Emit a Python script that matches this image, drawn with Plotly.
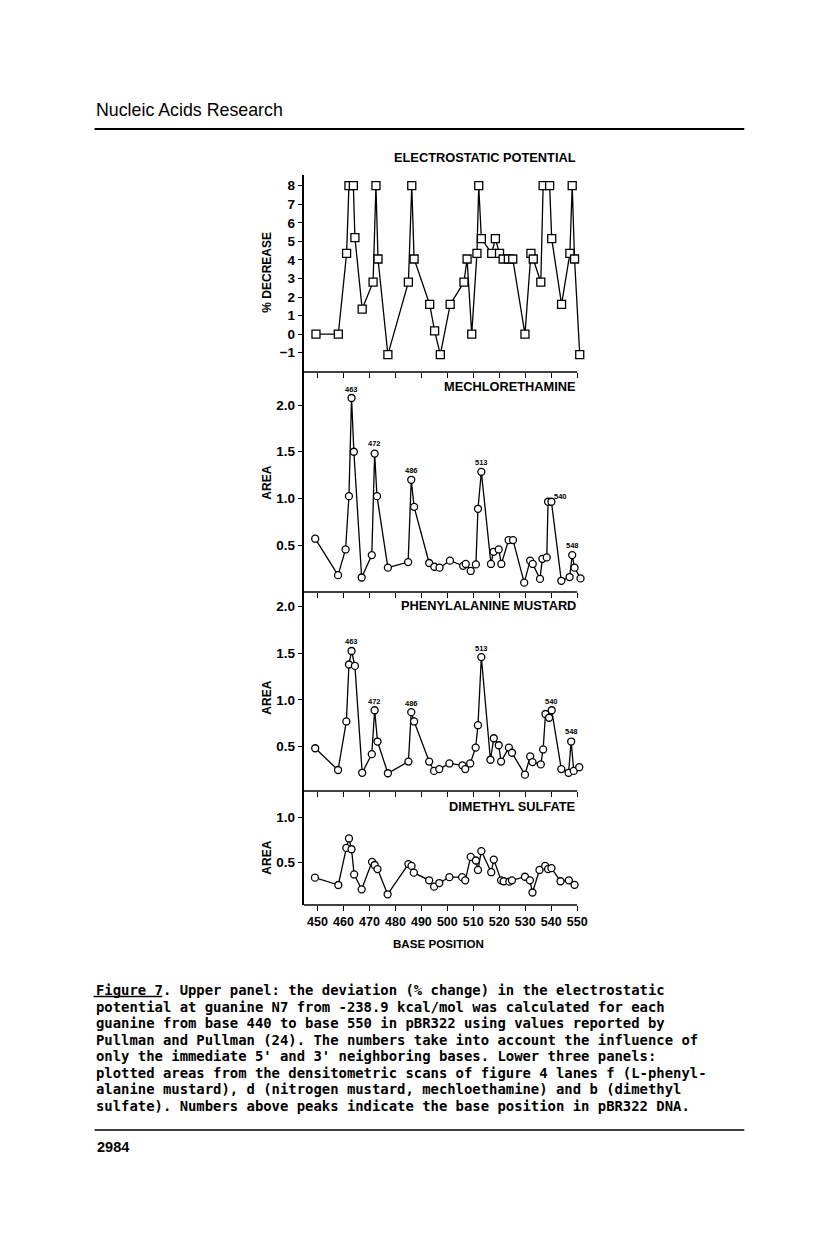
import plotly.graph_objects as go

# ---------------- data ----------------
ep_pos = [449.4, 458.0, 461.2, 462.1, 463.8, 464.4, 467.2, 471.4, 472.5, 473.3, 477.1,
          485.0, 486.3, 487.2, 493.2, 495.1, 497.3, 501.1, 506.4, 507.6, 509.4, 511.4,
          512.1, 513.1, 517.1, 518.5, 520.1, 521.5, 523.5, 525.2, 529.9, 532.2, 533.1,
          536.0, 536.9, 539.4, 540.2, 544.0, 547.2, 548.1, 549.0, 551.0]
ep_val = [0.0, 0.0, 4.35, 8.0, 8.0, 5.2, 1.35, 2.8, 8.0, 4.05, -1.1,
          2.8, 8.0, 4.05, 1.6, 0.18, -1.1, 1.6, 2.8, 4.05, 0.0, 4.35,
          8.0, 5.15, 4.35, 5.15, 4.35, 4.05, 4.05, 4.05, 0.0, 4.35, 4.05,
          2.8, 8.0, 8.0, 5.15, 1.6, 4.35, 8.0, 4.05, -1.1]
ep_peak_text = ["463", "472", "486", "512", "539", "548"]
ep_peak_pos = [465.3, 472.7, 486.6, 512.7, 541.4, 548.1]
ep_peak_val = [8.67, 8.67, 8.67, 8.67, 8.67, 8.67]

mech_pos = [449.1, 457.9, 460.8, 462.1, 463.1, 464.0, 467.0, 470.9, 472.0, 472.9, 477.1,
            484.9, 486.1, 487.2, 493.0, 495.0, 497.0, 501.0, 506.1, 507.1, 509.0, 511.0,
            511.8, 513.1, 516.8, 517.8, 519.8, 520.8, 523.6, 525.3, 529.6, 531.9, 532.9,
            535.7, 536.6, 538.3, 538.8, 540.1, 543.9, 547.1, 548.1, 549.0, 551.3]
mech_val = [0.57, 0.18, 0.455, 1.025, 2.075, 1.5, 0.155, 0.395, 1.48, 1.025, 0.26,
            0.32, 1.2, 0.91, 0.31, 0.27, 0.26, 0.335, 0.28, 0.30, 0.225, 0.295,
            0.89, 1.285, 0.30, 0.43, 0.455, 0.30, 0.555, 0.555, 0.10, 0.335, 0.30,
            0.14, 0.355, 0.37, 0.965, 0.965, 0.12, 0.16, 0.395, 0.26, 0.145]
mech_peak_text = ["463", "472", "486", "513", "540", "548"]
mech_peak_pos = [463.1, 472.0, 486.1, 513.1, 543.6, 548.1]
mech_peak_val = [2.17, 1.59, 1.30, 1.38, 1.02, 0.50]

phen_pos = [449.1, 457.9, 461.1, 462.1, 463.1, 464.4, 467.2, 470.9, 472.0, 473.1, 477.1,
            485.0, 486.1, 487.2, 493.0, 494.9, 496.9, 500.8, 505.8, 506.9, 508.8, 510.9,
            511.8, 513.1, 516.6, 517.9, 519.8, 520.7, 523.7, 524.9, 529.9, 531.9, 532.8,
            536.0, 536.9, 537.8, 539.2, 540.2, 543.9, 546.7, 547.7, 548.7, 550.8]
phen_val = [0.483, 0.25, 0.77, 1.38, 1.525, 1.365, 0.22, 0.42, 0.89, 0.555, 0.215,
            0.34, 0.87, 0.77, 0.34, 0.24, 0.26, 0.32, 0.30, 0.26, 0.32, 0.49,
            0.73, 1.46, 0.36, 0.59, 0.515, 0.34, 0.49, 0.435, 0.20, 0.395, 0.335,
            0.31, 0.47, 0.85, 0.81, 0.89, 0.26, 0.22, 0.555, 0.24, 0.28]
phen_peak_text = ["463", "513", "472", "486", "540", "548"]
phen_peak_pos = [463.1, 513.1, 472.0, 486.1, 540.2, 547.7]
phen_peak_val = [1.626, 1.554, 0.98, 0.965, 0.98, 0.66]

dms_pos = [449.0, 458.0, 461.1, 462.1, 463.1, 464.1, 467.0, 471.0, 472.0, 473.1, 477.0,
           485.0, 486.2, 487.1, 493.0, 494.9, 496.9, 500.8, 505.7, 506.9, 509.0, 511.0,
           511.8, 513.1, 516.9, 517.9, 520.7, 521.7, 523.9, 524.9, 529.9, 531.8, 532.8,
           535.5, 537.7, 538.8, 540.1, 543.6, 546.8, 549.0]
dms_val = [0.33, 0.248, 0.66, 0.765, 0.645, 0.365, 0.20, 0.505, 0.47, 0.425, 0.145,
           0.48, 0.46, 0.385, 0.30, 0.23, 0.27, 0.335, 0.335, 0.30, 0.56, 0.52,
           0.415, 0.625, 0.39, 0.53, 0.30, 0.29, 0.285, 0.30, 0.34, 0.30, 0.165,
           0.415, 0.46, 0.425, 0.435, 0.29, 0.30, 0.25]

x_ticks = [450, 460, 470, 480, 490, 500, 510, 520, 530, 540, 550]
ep_ticks = [-1, 0, 1, 2, 3, 4, 5, 6, 7, 8]
area_ticks_big = [0.5, 1.0, 1.5, 2.0]
area_ticks_small = [0.5, 1.0]

panel_titles = ["ELECTROSTATIC POTENTIAL", "MECHLORETHAMINE", "PHENYLALANINE MUSTARD", "DIMETHYL SULFATE"]
y_titles = ["% DECREASE", "AREA", "AREA", "AREA"]
x_title = "BASE POSITION"

header_text = "Nucleic Acids Research"
page_number = "2984"
caption_lines = [
    "Figure 7. Upper panel: the deviation (% change) in the electrostatic",
    "potential at guanine N7 from -238.9 kcal/mol was calculated for each",
    "guanine from base 440 to base 550 in pBR322 using values reported by",
    "Pullman and Pullman (24). The numbers take into account the influence of",
    "only the immediate 5' and 3' neighboring bases. Lower three panels:",
    "plotted areas from the densitometric scans of figure 4 lanes f (L-phenyl-",
    "alanine mustard), d (nitrogen mustard, mechloethamine) and b (dimethyl",
    "sulfate). Numbers above peaks indicate the base position in pBR322 DNA.",
]

# ---------------- layout helpers ----------------
# the page body has an 8 px margin, so the figure is 16 px smaller than the
# window and all page positions are converted by removing that offset
PAGE_OFF = 8
W, H = 816 - 2 * PAGE_OFF, 1236 - 2 * PAGE_OFF
def fx(p):
    return (p - PAGE_OFF) / W
def fy(p):
    return 1 - (p - PAGE_OFF) / H

X_LEFT, X_AXIS_END = 305, 580          # page px of x=444.6 and x=550
X_MIN, X_AXIS_MAX, X_MAX = 444.6, 550.0, 552.5
PX_PER_UNIT = (X_AXIS_END - X_LEFT) / (X_AXIS_MAX - X_MIN)
X_RIGHT = X_AXIS_END + (X_MAX - X_AXIS_MAX) * PX_PER_UNIT

# (top px, bottom px, y range, ticks)
panels = [
    (175, 372, [-2.04, 8.577], ep_ticks),
    (372, 592, [0.0, 2.353], area_ticks_big),
    (592, 791, [0.025, 2.157], area_ticks_big),
    (791, 905, [0.026, 1.292], area_ticks_small),
]

SANS = "Liberation Sans, Arial, Helvetica, sans-serif"
fig = go.Figure()

series = [(ep_pos, ep_val, "square"), (mech_pos, mech_val, "circle"),
          (phen_pos, phen_val, "circle"), (dms_pos, dms_val, "circle")]

for i, (xs, ys, sym) in enumerate(series):
    k = "" if i == 0 else str(i + 1)
    fig.add_trace(go.Scatter(
        x=xs, y=ys, mode="lines+markers", xaxis="x" + k, yaxis="y" + k,
        line=dict(color="black", width=1.3),
        marker=dict(symbol=sym, size=8 if sym == "square" else 7,
                    color="white", line=dict(color="black", width=1.3)),
        cliponaxis=False, showlegend=False, hoverinfo="skip"))

layout = dict(width=W, height=H, margin=dict(l=0, r=0, t=0, b=0),
              paper_bgcolor="white", plot_bgcolor="white", showlegend=False)

shapes = []
for i, (top, bot, yr, yt) in enumerate(panels):
    k = "" if i == 0 else str(i + 1)
    last = i == len(panels) - 1
    layout["xaxis" + k] = dict(
        domain=[fx(X_LEFT), fx(X_RIGHT)], range=[X_MIN, X_MAX], anchor="y" + k,
        showline=False, ticks="outside", ticklen=5, tickwidth=1.3, tickcolor="black",
        tickvals=x_ticks, showticklabels=last, showgrid=False, zeroline=False,
        tickfont=dict(family="Liberation Sans Narrow, Arial Narrow, Liberation Sans, Arial", size=12.5,
                      color="black", weight="bold"))
    if yt is ep_ticks:
        ytext = [str(v) if v >= 0 else "\u2212" + str(-v) for v in yt]
    else:
        ytext = ["%.1f" % v for v in yt]
    layout["yaxis" + k] = dict(
        domain=[fy(bot), fy(top)], range=yr, anchor="x" + k,
        showline=True, linecolor="black", linewidth=1.5,
        ticks="outside", ticklen=4, tickwidth=1.3, tickcolor="black",
        tickvals=yt, ticktext=ytext, showgrid=False, zeroline=False,
        tickfont=dict(family=SANS, size=13.5, color="black", weight="bold"))
    # bottom axis line ending at the 550 tick
    shapes.append(dict(type="line", xref="x" + k, yref="y" + k + " domain",
                       x0=X_MIN, x1=X_AXIS_MAX, y0=0, y1=0,
                       line=dict(color="black", width=1.5)))

fig.update_layout(**layout)

ann = []
# panel titles
title_y = [157.7, 386.7, 605.0, 806.7]
for t, ty in zip(panel_titles, title_y):
    ann.append(dict(text=t, xref="paper", yref="paper", x=fx(581), y=fy(ty),
                    xanchor="right", yanchor="middle", showarrow=False,
                    font=dict(family=SANS, size=12.8, color="black", weight="bold")))
# y titles
ytitle_y = [272, 483, 698, 858]
for t, ty in zip(y_titles, ytitle_y):
    ann.append(dict(text=t, xref="paper", yref="paper", x=fx(268), y=fy(ty),
                    xanchor="center", yanchor="middle", textangle=-90, showarrow=False,
                    font=dict(family=SANS, size=12, color="black", weight="bold")))
# x title
ann.append(dict(text=x_title, xref="paper", yref="paper", x=fx(441), y=fy(943),
                xanchor="center", yanchor="middle", showarrow=False,
                font=dict(family=SANS, size=11.6, color="black", weight="bold")))
# peak labels
peak_sets = [(ep_peak_text, ep_peak_pos, ep_peak_val, ""),
             (mech_peak_text, mech_peak_pos, mech_peak_val, "2"),
             (phen_peak_text, phen_peak_pos, phen_peak_val, "3")]
for texts, xs, ys, k in peak_sets:
    for t, xv, yv in zip(texts, xs, ys):
        ann.append(dict(text=t, xref="x" + k, yref="y" + k, x=xv, y=yv,
                        xanchor="center", yanchor="middle", showarrow=False,
                        font=dict(family=SANS, size=7.5, color="black", weight="bold")))
# header
ann.append(dict(text=header_text, xref="paper", yref="paper", x=fx(94), y=fy(110),
                xanchor="left", yanchor="middle", showarrow=False,
                font=dict(family=SANS, size=17.8, color="black")))
# caption
for j, line in enumerate(caption_lines):
    ann.append(dict(text=line, xref="paper", yref="paper", x=fx(94), y=fy(990 + 16.5 * j),
                    xanchor="left", yanchor="middle", showarrow=False,
                    font=dict(family="DejaVu Sans Mono, Liberation Mono, monospace", size=13.9,
                              color="black", weight="bold")))
# page number
ann.append(dict(text=page_number, xref="paper", yref="paper", x=fx(95), y=fy(1147),
                xanchor="left", yanchor="middle", showarrow=False,
                font=dict(family=SANS, size=14.5, color="black", weight="bold")))

shapes += [
    dict(type="line", xref="paper", yref="paper", x0=fx(95), x1=fx(748), y0=fy(129), y1=fy(129),
         line=dict(color="black", width=2.2)),
    dict(type="line", xref="paper", yref="paper", x0=fx(95), x1=fx(748), y0=fy(1130), y1=fy(1130),
         line=dict(color="black", width=1.5)),
    dict(type="line", xref="paper", yref="paper", x0=fx(94), x1=fx(163), y0=fy(996.5), y1=fy(996.5),
         line=dict(color="black", width=1.3)),
]
fig.update_layout(annotations=ann, shapes=shapes)

fig.write_html("out.html")
